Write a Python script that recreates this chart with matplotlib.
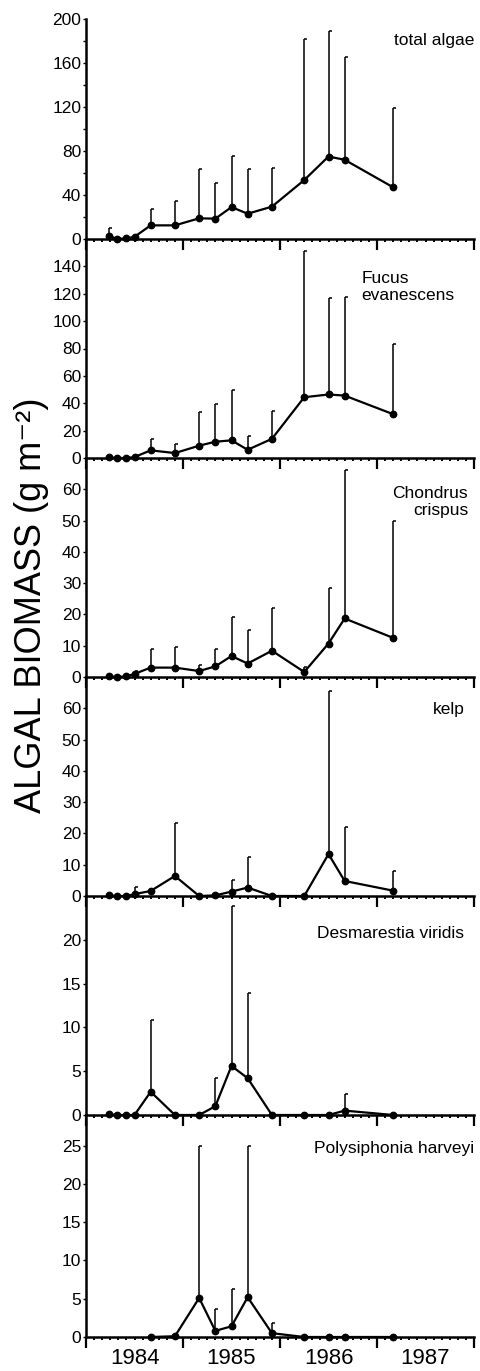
import numpy as np
import matplotlib.pyplot as plt
from matplotlib.ticker import MultipleLocator

plt.rcParams['font.family'] = ['Liberation Sans', 'DejaVu Sans']

# sampling dates, months after 1 Jan 1984
months = [2.9, 3.8, 5.0, 6.0, 8.0, 11.0, 14.0, 16.0, 18.0, 20.0, 23.0, 27.0, 30.0, 32.0, 38.0]

total = [3, 0, 0.6, 2, 12.4, 12.4, 18.8, 18.5, 29, 23, 29.4, 53.6, 75, 72, 47]
total_hi = [10, 0, 0.6, 2, 27.6, 35, 63.6, 50.6, 75.8, 63.3, 64.5, 182, 189, 165.5, 119.4]

fucus = [0.5, 0, 0, 0.7, 5.6, 3.6, 9, 11.9, 12.9, 6, 14, 44.4, 46.4, 45.6, 32]
fucus_hi = [0.5, 0, 0, 0.7, 13.8, 10.2, 33.7, 39.6, 49.8, 15.8, 34, 151, 117, 117.7, 83]

chondrus = [0.2, 0, 0.2, 1, 3, 3, 1.9, 3.4, 6.7, 4.3, 8.4, 1.6, 10.7, 18.7, 12.5]
chondrus_hi = [0.2, 0, 0.2, 1.8, 8.8, 9.6, 3.9, 8.9, 19.2, 15, 22.2, 3.2, 28.3, 66.2, 50]

kelp = [0.2, 0, 0, 0.6, 1.6, 6.4, 0, 0.2, 1.4, 2.7, 0, 0, 13.4, 4.8, 1.7]
kelp_hi = [0.2, 0, 0, 2.8, 1.6, 23.4, 0, 0.2, 5.1, 12.5, 0, 0, 65.4, 22, 8]

desma = [0.1, 0, 0, 0, 2.65, 0, 0, 1.0, 5.6, 4.2, 0, 0, 0, 0.5, 0]
desma_hi = [0.1, 0, 0, 0, 10.9, 0, 0, 4.2, 23.9, 13.9, 0, 0, 0, 2.4, 0]

nan = np.nan
poly = [nan, nan, nan, nan, 0, 0.1, 5.1, 0.8, 1.4, 5.2, 0.5, 0, 0, 0, 0]
poly_hi = [nan, nan, nan, nan, 0, 0.1, 25, 3.6, 6.3, 24.9, 1.8, 0, 0, 0, 0]

years = [1984, 1985, 1986, 1987]

x = 1984 + np.array(months) / 12.0

panels = [
    (total, total_hi, 200, np.arange(0, 201, 40), 20, 'total algae', 1.0, 0.90, 'right'),
    (fucus, fucus_hi, 160, np.arange(0, 141, 20), None, 'Fucus\nevanescens', 0.71, 0.78, 'left'),
    (chondrus, chondrus_hi, 70, np.arange(0, 61, 10), None, 'Chondrus\ncrispus', 0.985, 0.80, 'right'),
    (kelp, kelp_hi, 70, np.arange(0, 61, 10), None, 'kelp', 0.975, 0.85, 'right'),
    (desma, desma_hi, 25, np.arange(0, 21, 5), None, 'Desmarestia viridis', 0.975, 0.83, 'right'),
    (poly, poly_hi, 29, np.arange(0, 26, 5), None, 'Polysiphonia harveyi', 1.0, 0.85, 'right'),
]

W, H = 481, 1371
fig = plt.figure(figsize=(W / 100, H / 100), dpi=100)

edges = [19, 239, 458, 677, 896, 1115, 1337]
left, right = 86, 474

cap = [(0, 0), (1, 0)]

axes = []
for i, (vals, hi, ymax, yt, ymin_step, name, tx, ty, ha) in enumerate(panels):
    top_px, bot_px = edges[i], edges[i + 1]
    ax = fig.add_axes([left / W, 1 - bot_px / H, (right - left) / W, (bot_px - top_px) / H])
    ax.patch.set_visible(False)
    vals = np.array(vals, dtype=float)
    hi = np.array(hi, dtype=float)

    # one-sided error bars with a small cap to the right
    ax.vlines(x, vals, hi, color='black', lw=1.1, clip_on=False)
    has_bar = hi - vals > 0.01 * ymax
    ax.plot(x[has_bar], hi[has_bar], ls='none', marker=cap, ms=4, mew=1.1,
            color='black', clip_on=False)
    ax.plot(x, vals, color='black', lw=1.6, marker='o', ms=4.6, clip_on=False, zorder=5)

    ax.set_xlim(1984, 1988)
    ax.set_ylim(0, ymax)
    ax.set_yticks(yt)
    if ymin_step:
        ax.yaxis.set_minor_locator(MultipleLocator(ymin_step))
    ax.set_xticks(range(1984, 1989))
    ax.set_xticklabels([])
    ax.xaxis.set_minor_locator(MultipleLocator(1 / 12))

    for s in ['top', 'right']:
        ax.spines[s].set_visible(False)
    ax.spines['left'].set_linewidth(1.8)
    ax.spines['bottom'].set_linewidth(1.8)

    ax.tick_params(axis='x', which='major', direction='out', length=8, width=1.6)
    ax.tick_params(axis='x', which='minor', direction='out', length=2.5, width=1.4)
    ax.tick_params(axis='y', which='both', direction='out', length=2.5, width=1,
                   labelsize=12.5, pad=1)

    ax.text(tx, ty, name, transform=ax.transAxes, ha=ha, va='center',
            fontsize=12.5, linespacing=1.15)
    axes.append(ax)

bottom = axes[-1]
for yr in years:
    bottom.annotate(str(yr), xy=(yr + 0.5, 0), xycoords=('data', 'axes fraction'),
                    xytext=(0, -8), textcoords='offset points',
                    ha='center', va='top', fontsize=16)

fig.text(0.066, 1 - 605 / H, 'ALGAL BIOMASS (g m\u207b\u00b2)', rotation=90,
         ha='center', va='center', fontsize=26)

fig.savefig('out.png', dpi=100)
